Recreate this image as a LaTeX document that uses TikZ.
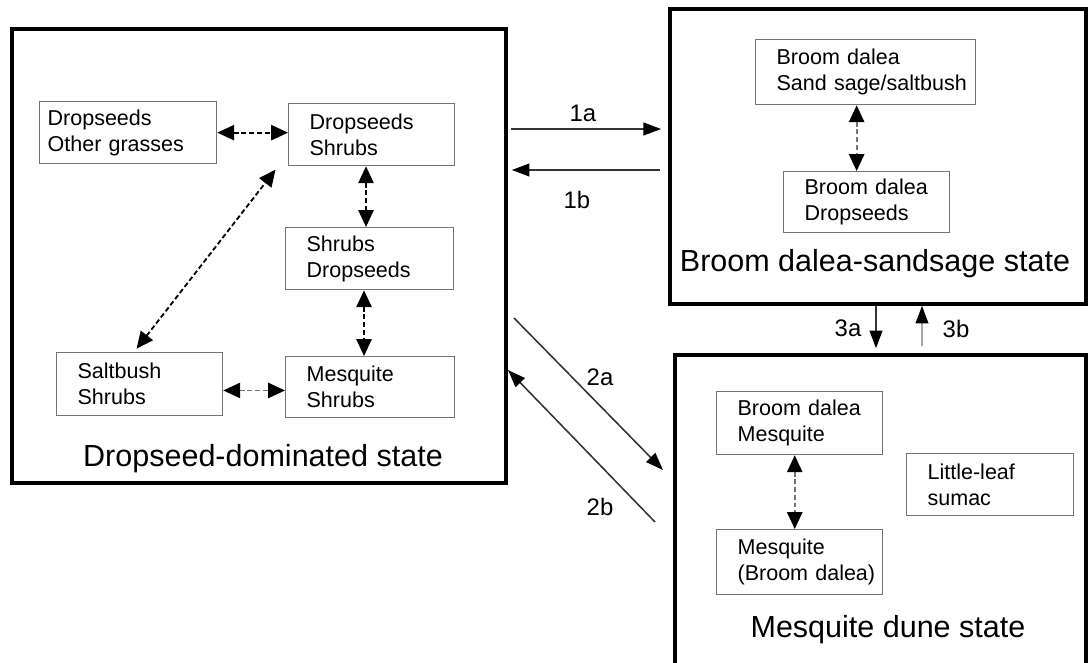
\documentclass[tikz,border=0pt]{standalone}
\usepackage{fontspec}
\setmainfont{Liberation Sans}
\usepackage{tikz}
\usetikzlibrary{arrows.meta}

\begin{document}
\begin{tikzpicture}[x=0.025cm, y=-0.025cm,
    statebox/.style={draw=black, line width=2.6pt, inner sep=0pt},
    plantbox/.style={draw=black!55, line width=0.9pt, anchor=north west, align=left, inner xsep=0.525cm, inner ysep=0pt, text width=3.1cm, minimum height=1.55cm, font=\fontsize{15.3}{18.4}\selectfont},
    statelabel/.style={anchor=base, inner sep=0pt, font=\fontsize{21.7}{26}\selectfont},
    steplabel/.style={inner sep=0pt, font=\fontsize{17}{20}\selectfont}]
    \useasboundingbox (0,0) rectangle (1088,663);

    % states
    \node[statebox, minimum width=12.35cm, minimum height=11.35cm] (dom) at (259,256) {};
    \node[statebox, minimum width=10.4cm, minimum height=7.375cm] (bro) at (878,156.5) {};
    \node[statebox, minimum width=10.275cm, minimum height=7.825cm] (mes) at (880.5,511.5) {};
    \node[statelabel] (domlab) at (263,466) {Dropseed-dominated state};
    \node[statelabel] (brolab) at (875,272) {Broom dalea-sandsage state};
    \node[statelabel] (meslab) at (888,637) {Mesquite dune state};

    % communities
    \node[plantbox, inner xsep=0.2cm, text width=4.025cm] (og) at (39,101) {Dropseeds\\Other~grasses};
    \node[plantbox] (ds) at (288,103) {Dropseeds\\Shrubs};
    \node[plantbox, text width=3.15cm] (sd) at (285,227) {Shrubs\\Dropseeds};
    \node[plantbox, minimum height=1.575cm] (sb) at (56,352) {Saltbush\\Shrubs};
    \node[plantbox, text width=3.175cm, minimum height=1.525cm] (ms) at (285,356) {Mesquite\\Shrubs};
    \node[plantbox, text width=4.45cm, minimum height=1.625cm] (b1) at (755,39) {Broom~dalea\\Sand~sage/saltbush};
    \node[plantbox, minimum height=1.525cm] (b2) at (783,171) {Broom~dalea\\Dropseeds};
    \node[plantbox, minimum height=1.575cm] (m1) at (716,391) {Broom~dalea\\Mesquite};
    \node[plantbox, minimum height=1.625cm] (m2) at (716,529) {Mesquite\\(Broom~dalea)};
    \node[plantbox, text width=3.125cm] (su) at (906,453) {Little-leaf\\sumac};

    \tikzset{link/.style={<->, >={Triangle[length=0.42cm, width=0.38cm, color=black]}, dash pattern=on 3.5pt off 2pt, line width=1.3pt}}
    \tikzset{trans/.style={-{Triangle[length=0.44cm, width=0.32cm, color=black]}, line width=1.1pt, draw=black!80}}

    \draw[link] (og.east) -- (og.east -| ds.west);
    \draw[link] ([xshift=-4pt]ds.south) -- ([xshift=-4pt]ds.south |- sd.north);
    \draw[link] ([xshift=-4pt]sd.south) -- ([xshift=-4pt]sd.south |- ms.north);
    \draw[link, shorten <=3pt, shorten >=3pt] ([xshift=-4pt]sb.north) -- ([xshift=-7pt]ds.south west);
    \draw[link, draw=black!55] ([yshift=-4.5pt]sb.east) -- ([yshift=-4.5pt]sb.east -| ms.west);
    \draw[link, draw=black!55] ([xshift=-6.4pt]b1.south) -- ([xshift=-6.4pt]b1.south |- b2.north);
    \draw[link, draw=black!55] ([xshift=-3.5pt]m1.south) -- ([xshift=-3.5pt]m1.south |- m2.north);

    % transitions
    \coordinate (r1a) at (0,129);
    \coordinate (r1b) at (0,170);
    \coordinate (c3a) at (876,0);
    \coordinate (c3b) at (922,0);
    \coordinate (s2a) at (514,318);
    \coordinate (e2a) at (663,470);
    \coordinate (s2b) at (655,522);
    \coordinate (e2b) at (508,370);

    \draw[trans, shorten <=2pt, shorten >=5pt] (dom.east |- r1a) -- (bro.west |- r1a);
    \draw[trans, shorten <=5.7pt, shorten >=2.8pt] (bro.west |- r1b) -- (dom.east |- r1b);
    \draw[trans] (s2a) -- (e2a);
    \draw[trans] (s2b) -- (e2b);
    \draw[trans, shorten >=3.5pt] (bro.south -| c3a) -- (mes.north -| c3a);
    \draw[trans, draw=black!35, shorten <=5pt] (mes.north -| c3b) -- (bro.south -| c3b);

    \node[steplabel] (l1a) at (583,113) {1a};
    \node[steplabel] (l1b) at (577,200) {1b};
    \node[steplabel] (l2a) at (600,377) {2a};
    \node[steplabel] (l2b) at (600,507) {2b};
    \node[steplabel] (l3a) at (848,328) {3a};
    \node[steplabel] (l3b) at (956,329) {3b};
\end{tikzpicture}
\end{document}
